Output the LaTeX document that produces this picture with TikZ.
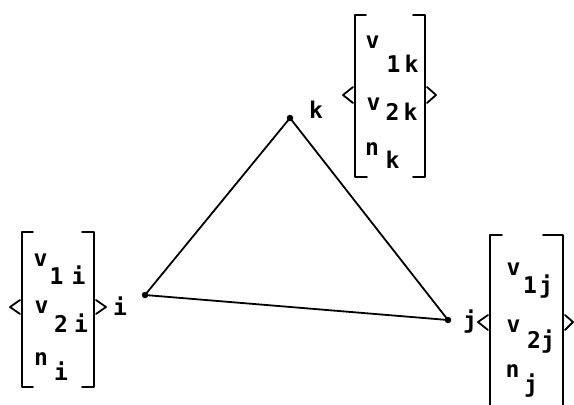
\documentclass[tikz,border=0pt]{standalone}
\usepackage{fontspec}
\newfontfamily\tw{DejaVu Sans Mono Bold}
\begin{document}
\begin{tikzpicture}[x=1pt,y=-1pt,
  txt/.style={anchor=base west,inner sep=0pt,font=\tw\fontsize{23}{27}\selectfont},
  br/.style={line width=1.8pt,line cap=round,line join=round},
  edge/.style={line width=1.8pt},
  vdot/.style={circle,fill,inner sep=0pt,minimum size=6.5pt}]
\useasboundingbox (0,0) rectangle (574,405);
% triangle
\node[vdot] (i) at (145,295) {};
\node[vdot] (k) at (290,118) {};
\node[vdot] (j) at (448,320) {};
\draw[edge] (i.center) -- (k.center) -- (j.center) -- (i.center);
% vertex labels
\node[txt] (li) at (113,315) {i};
\node[txt] (lk) at (309,118) {k};
\node[txt] (lj) at (463,328) {j};
% vector i
\node[txt] (vi1) at (33.5,266) {v};
\node[txt] (si1) at (49.5,284) {1\kern8pt i};
\node[txt] (vi2) at (34.5,313) {v};
\node[txt] (si2) at (54,332) {2\kern6pt i};
\node[txt] (ni) at (34,365) {n};
\node[txt] (sni) at (54,380) {i};
\draw[br] (33,232) -- (22,232) -- (22,387) -- (33,387);
\draw[br] (82,232) -- (94,232) -- (94,387) -- (82,387);
\draw[br] (20,300) -- (10,307) -- (20,314);
\draw[br] (96,300) -- (106,307) -- (96,314);
% vector k
\node[txt] (vk1) at (365.5,48) {v};
\node[txt] (sk1) at (386.5,72) {1\kern4pt k};
\node[txt] (vk2) at (366.5,110) {v};
\node[txt] (sk2) at (385.5,120) {2\kern4pt k};
\node[txt] (nk) at (365,155) {n};
\node[txt] (snk) at (385.5,168) {k};
\draw[br] (366,15) -- (355,15) -- (355,177) -- (367,177);
\draw[br] (413,15) -- (425,15) -- (425,177) -- (413,177);
\draw[br] (353,87) -- (343,95) -- (353,103);
\draw[br] (427,87) -- (436,95) -- (427,103);
% vector j
\node[txt] (vj1) at (506.5,275) {v};
\node[txt] (sj1) at (523,293) {1\kern2pt j};
\node[txt] (vj2) at (506.5,332) {v};
\node[txt] (sj2) at (527,348) {2\kern0pt j};
\node[txt] (nj) at (505.5,377) {n};
\node[txt] (snj) at (524,392) {j};
\draw[br] (502,235) -- (490,235) -- (490,405);
\draw[br] (543,235) -- (563,235) -- (563,405);
\draw[br] (488,315) -- (478,322) -- (488,330);
\draw[br] (565,315) -- (573,322) -- (565,330);
\end{tikzpicture}
\end{document}
